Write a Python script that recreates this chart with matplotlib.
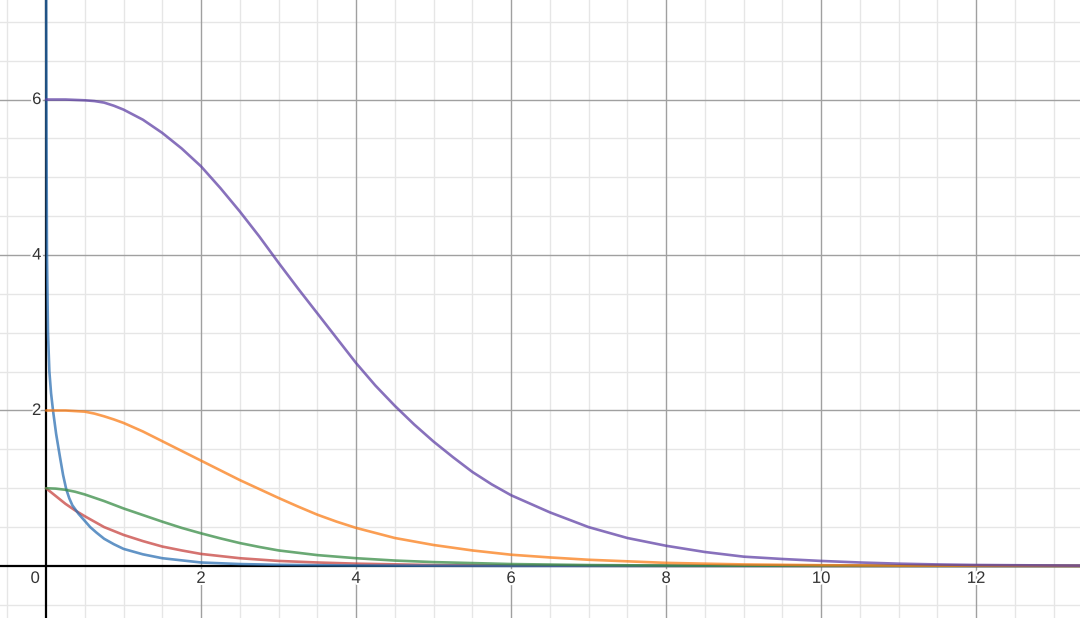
import numpy as np
import matplotlib.pyplot as plt
import matplotlib.patheffects as pe

# values
purple_x = [0, 0.25, 0.5, 0.625, 0.75, 0.875, 1.0, 1.25, 1.5, 1.75, 2.0, 2.25, 2.5, 2.75, 3.0, 3.25,
            3.5, 3.75, 4.0, 4.25, 4.5, 4.75, 5.0, 5.25, 5.5, 5.75, 6.0, 6.5, 7.0, 7.5, 8.0, 8.5,
            9.0, 9.5, 10.0, 10.5, 11.0, 11.5, 12.0, 13.4]
purple_y = [6.0, 6.0, 5.99, 5.98, 5.96, 5.92, 5.87, 5.74, 5.57, 5.37, 5.14, 4.86, 4.56, 4.24, 3.90, 3.57,
            3.25, 2.93, 2.61, 2.32, 2.06, 1.82, 1.60, 1.40, 1.21, 1.05, 0.91, 0.69, 0.50, 0.36, 0.26, 0.18,
            0.12, 0.09, 0.065, 0.045, 0.03, 0.02, 0.013, 0.004]

orange_x = [0, 0.25, 0.5, 0.625, 0.75, 0.875, 1.0, 1.25, 1.5, 1.75, 2.0, 2.25, 2.5, 2.75, 3.0, 3.25,
            3.5, 3.75, 4.0, 4.5, 5.0, 5.5, 6.0, 6.5, 7.0, 7.5, 8.0, 9.0, 10.0, 11.0, 12.0, 13.4]
orange_y = [2.0, 2.0, 1.985, 1.96, 1.925, 1.885, 1.84, 1.73, 1.605, 1.48, 1.355, 1.23, 1.105, 0.99, 0.875, 0.765,
            0.66, 0.57, 0.49, 0.36, 0.27, 0.20, 0.145, 0.11, 0.08, 0.06, 0.04, 0.02, 0.01, 0.005, 0.003, 0.001]

green_x = [0, 0.125, 0.25, 0.375, 0.5, 0.75, 1.0, 1.25, 1.5, 1.75, 2.0, 2.25, 2.5, 2.75, 3.0, 3.5,
           4.0, 4.5, 5.0, 6.0, 7.0, 8.0, 10.0, 13.4]
green_y = [1.0, 0.995, 0.98, 0.955, 0.92, 0.835, 0.74, 0.655, 0.57, 0.49, 0.42, 0.355, 0.295, 0.245, 0.20, 0.14,
           0.10, 0.07, 0.05, 0.025, 0.012, 0.006, 0.002, 0.0]

red_x = [0, 0.125, 0.25, 0.375, 0.5, 0.75, 1.0, 1.25, 1.5, 1.75, 2.0, 2.5, 3.0, 3.5, 4.0, 5.0,
         6.0, 8.0, 13.4]
red_y = [1.0, 0.90, 0.80, 0.715, 0.64, 0.50, 0.40, 0.32, 0.25, 0.20, 0.155, 0.10, 0.065, 0.045, 0.03, 0.012,
         0.005, 0.001, 0.0]

blue_x = [0.002, 0.006, 0.012, 0.025, 0.043, 0.065, 0.09, 0.13, 0.18, 0.22, 0.26, 0.30, 0.34, 0.42,
          0.5, 0.57, 0.65, 0.75, 0.875, 1.0, 1.25, 1.5, 2.0, 2.5, 3.0, 4.0, 6.0, 13.4]
blue_y = [7.3, 5.5, 4.0, 3.0, 2.5, 2.22, 2.0, 1.7, 1.4, 1.17, 0.99, 0.87, 0.78, 0.67,
          0.58, 0.50, 0.43, 0.35, 0.28, 0.22, 0.15, 0.10, 0.045, 0.025, 0.015, 0.006, 0.001, 0.0]

x_ticks = [2, 4, 6, 8, 10, 12]
y_ticks = [2, 4, 6]

fig = plt.figure(figsize=(10.8, 6.18), dpi=100)
ax = fig.add_axes([0, 0, 1, 1])
ax.set_xlim(-0.594, 13.34)
ax.set_ylim(-0.669, 7.28)
ax.axis('off')

# grid: light minor lines every 0.5, darker major lines every 2
for v in np.arange(-0.5, 13.5, 0.5):
    if v % 2 != 0:
        ax.axvline(v, color='#e6e6e6', lw=1, zorder=0)
for v in np.arange(-0.5, 7.5, 0.5):
    if v % 2 != 0:
        ax.axhline(v, color='#e6e6e6', lw=1, zorder=0)
for v in x_ticks:
    ax.axvline(v, color='#a0a0a0', lw=1, zorder=1)
for v in y_ticks:
    ax.axhline(v, color='#a0a0a0', lw=1, zorder=1)

ax.axvline(0, color='black', lw=1.6, zorder=2)
ax.axhline(0, color='black', lw=1.6, zorder=2)

halo = [pe.withStroke(linewidth=3, foreground='white')]
for v in x_ticks:
    ax.text(v, -0.16, str(v), ha='center', va='center', fontsize=12, color='#333333',
            family='Liberation Sans', path_effects=halo, zorder=3)
for v in y_ticks:
    ax.text(-0.06, v, str(v), ha='right', va='center', fontsize=12, color='#333333',
            family='Liberation Sans', path_effects=halo, zorder=3)
ax.text(-0.14, -0.16, '0', ha='center', va='center', fontsize=12, color='#333333',
        family='Liberation Sans', path_effects=halo, zorder=3)

lw = 1.9
style = dict(lw=lw, alpha=0.75, zorder=4, solid_joinstyle='round', solid_capstyle='round')
ax.plot(red_x, red_y, color='#c74440', **style)
ax.plot(blue_x, blue_y, color='#2d70b3', **style)
ax.plot(green_x, green_y, color='#388c46', **style)
ax.plot(orange_x, orange_y, color='#fa7e19', **style)
ax.plot(purple_x, purple_y, color='#6042a6', **style)

fig.savefig('out.png', dpi=100)
